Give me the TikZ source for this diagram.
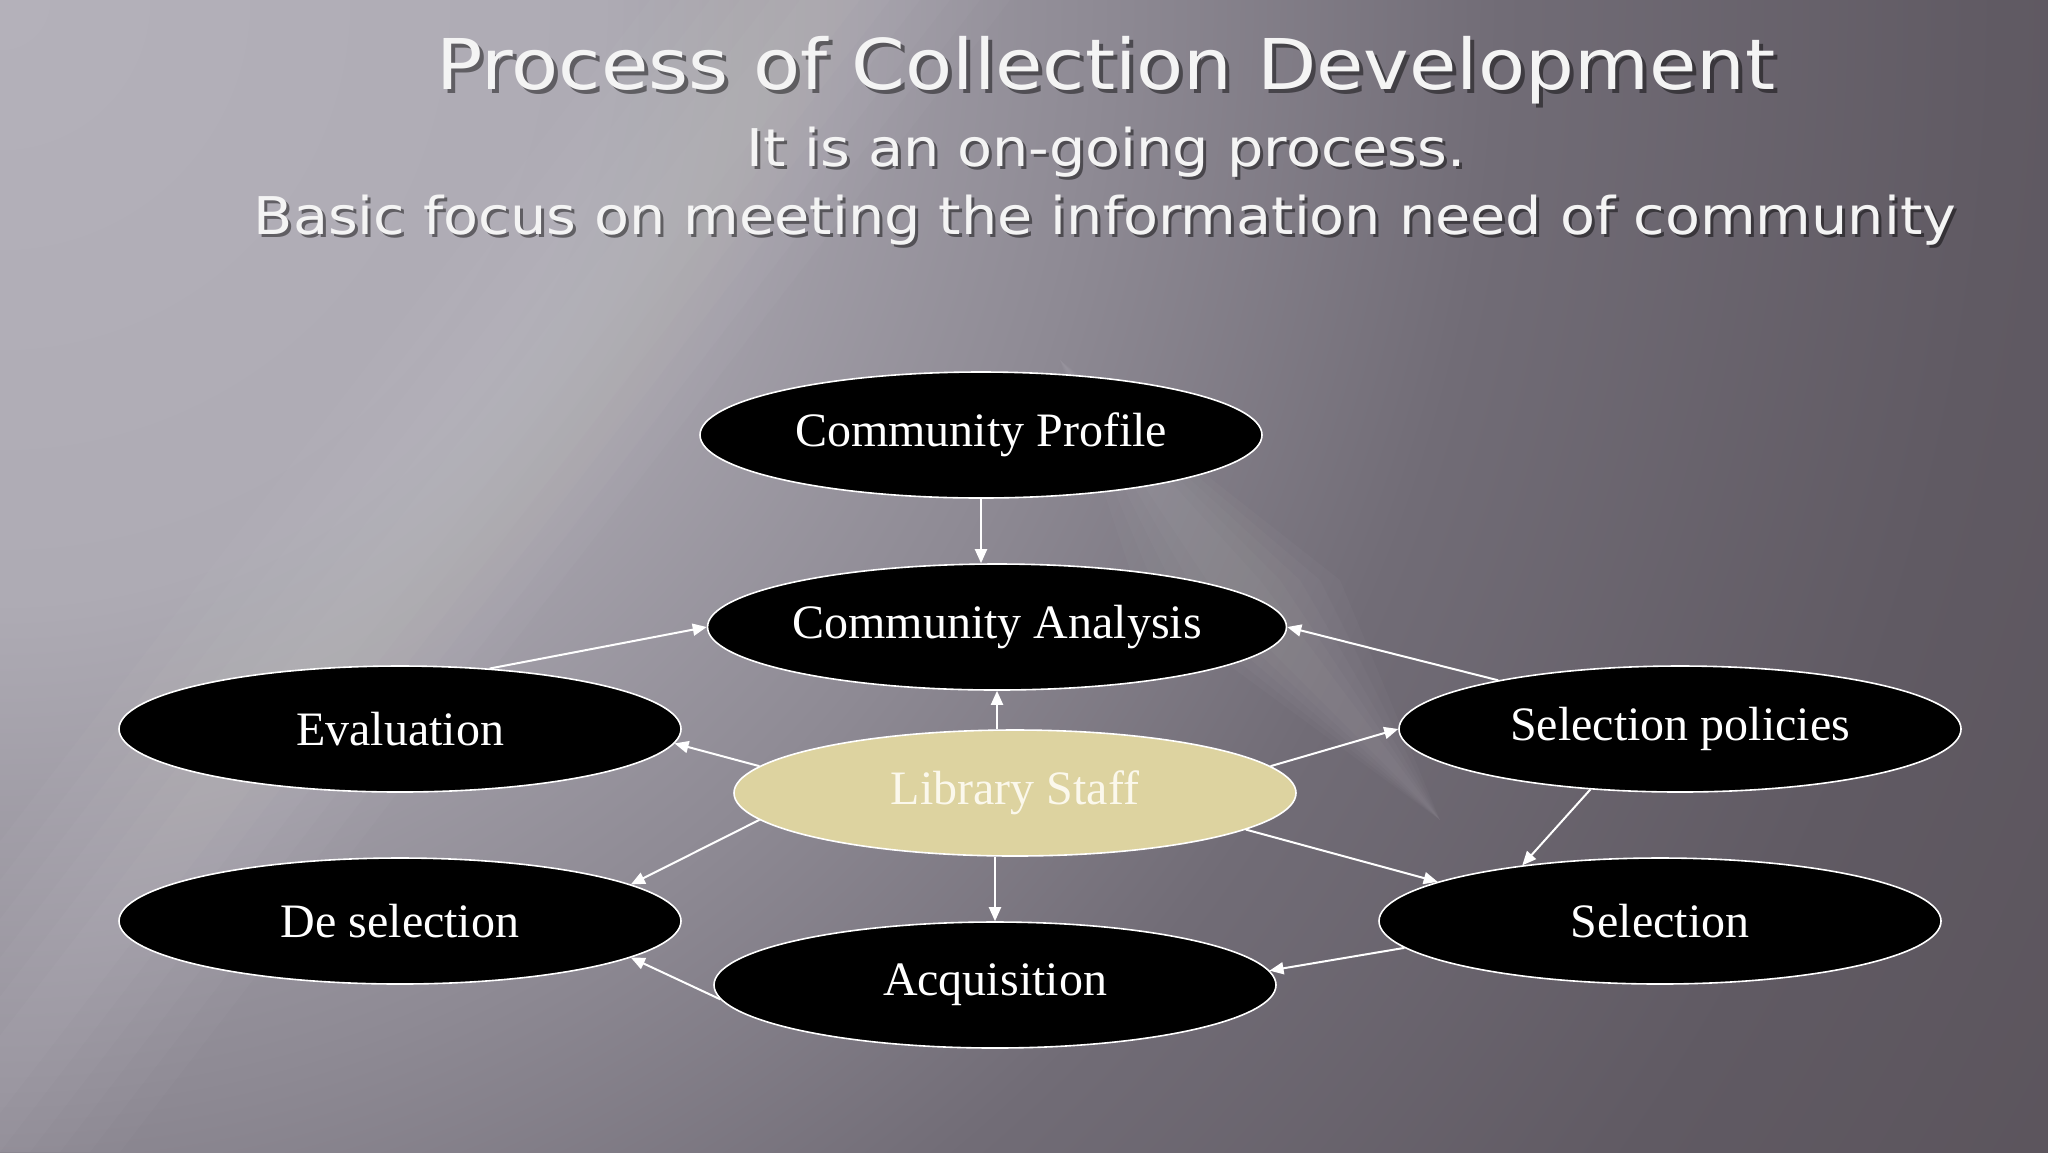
\documentclass[tikz,border=0pt]{standalone}
\usepackage{fontspec}
\setmainfont{Liberation Serif}
\newfontfamily\titlefont[FakeStretch=1.1]{DejaVu Sans}
\usetikzlibrary{arrows.meta,shapes.geometric}
\definecolor{bgA}{HTML}{B4B1BA}
\definecolor{bgB}{HTML}{AEABB4}
\definecolor{bgC}{HTML}{8E8A94}
\definecolor{bgD}{HTML}{716C76}
\definecolor{bgE}{HTML}{605A63}
\definecolor{bgF}{HTML}{5B545C}
\definecolor{staffFill}{HTML}{DDD3A0}
\definecolor{staffText}{HTML}{FBF8EC}
\definecolor{titleC}{HTML}{F4F4F4}
\pgfdeclareradialshading{bgshade}{\pgfpoint{0pt}{0pt}}{color(0pt)=(bgA); color(300pt)=(bgB); color(550pt)=(bgC); color(750pt)=(bgD); color(1000pt)=(bgE); color(1200pt)=(bgF)}
\begin{document}
\begin{tikzpicture}[x=0.5pt,y=-0.5pt,
  oval/.style={ellipse, draw=white, line width=0.8pt, fill=black, text=white,
    minimum width=281pt, minimum height=63pt, inner sep=0pt,
    font=\fontsize{24}{28}\selectfont},
  staff/.style={oval, fill=staffFill, text=staffText},
  arr/.style={draw=white, line width=1pt, -{Triangle[length=7pt,width=6pt]}},
  ttl/.style={anchor=base, inner sep=0pt, text=titleC},
  shd/.style={anchor=base, inner sep=0pt, text=black, opacity=0.45},
  bigf/.style={font=\titlefont\fontsize{35}{40}\selectfont},
  subf/.style={font=\titlefont\fontsize{26}{30}\selectfont},
  streak/.style={fill=white, opacity=0.022}
]
\useasboundingbox (0,0) rectangle (2048,1152);
\begin{scope}
  \clip (0,0) rectangle (2048,1152);
  \node[inner sep=0pt] (bgnode) at (0,0) {\pgfuseshading{bgshade}};
  \foreach \h in {30,60,90,120,150,180}{
    \fill[streak] (830-\h,0) -- (830+\h,0) -- (-60+\h,1152) -- (-60-\h,1152) -- cycle;
  }
  \foreach \h in {20,40,60,80,100}{
    \fill[streak] (1060,360) -- (1240+\h,580) -- (1440,820) -- (1240-\h,600) -- cycle;
  }
\end{scope}

% titles with shadows
\node[shd, bigf] (t1s) at (1110,93) {Process of Collection Development};
\node[ttl, bigf] (t1) at (1106,89) {Process of Collection Development};
\node[shd, subf] (t2s) at (1109,169) {It is an on-going process.};
\node[ttl, subf] (t2) at (1106,166) {It is an on-going process.};
\node[shd, subf] (t3s) at (1108,237) {Basic focus on meeting the information need of community};
\node[ttl, subf] (t3) at (1105,234) {Basic focus on meeting the information need of community};

% nodes
\node[oval] (CP) at (981,435) {Community Profile};
\node[oval] (CA) at (997,627) {Community Analysis};
\node[oval] (EV) at (400,729) {Evaluation};
\node[oval] (SP) at (1680,729) {Selection policies};
\node[staff] (LS) at (1015,793) {Library Staff};
\node[oval] (DS) at (400,921) {De selection};
\node[oval] (SE) at (1660,921) {Selection};
\node[oval] (AC) at (995,985) {Acquisition};

% connectors
\draw[arr] (CP.south) -- (CP.south |- CA.north);
\draw[arr] (EV.34) -- (CA.west);
\draw[arr] (SP.165) -- (CA.east);
\draw[arr] (CA.south |- LS.north) -- (CA.south);
\draw[arr] (LS.174) -- (EV.-3);
\draw[arr] (LS.6) -- (SP.west);
\draw[arr] (LS.186) -- (DS.9);
\draw[arr] (AC.north |- LS.south) -- (AC.north);
\draw[arr] (LS.-9.4) -- (SE.170.6);
\draw[arr] (SP.-146) -- (SE.158);
\draw[arr] (SE.-174) -- (AC.3);
\draw[arr] (AC.-177.4) -- (DS.-9.5);
\end{tikzpicture}
\end{document}
